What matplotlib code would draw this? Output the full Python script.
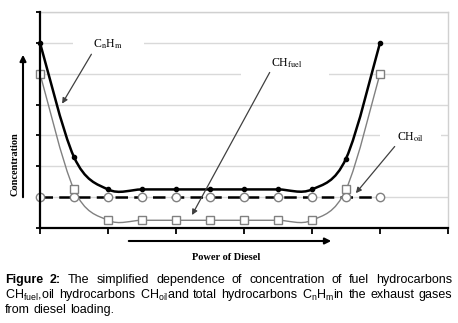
import matplotlib
matplotlib.use("Agg")
import matplotlib.pyplot as plt
import numpy as np
from matplotlib.path import Path
from matplotlib.patches import PathPatch, Rectangle

plt.rcParams['mathtext.fontset'] = 'custom'
plt.rcParams['mathtext.rm'] = 'Liberation Sans'
plt.rcParams['mathtext.it'] = 'Liberation Sans:italic'
plt.rcParams['mathtext.bf'] = 'Liberation Sans:bold'

# ---- data ----
load = [0, 1, 2, 3, 4, 5, 6, 7, 8, 9, 10]
cnhm = [6.0, 2.3, 1.25, 1.25, 1.25, 1.25, 1.25, 1.25, 1.25, 2.25, 6.0]
ch_fuel = [5.0, 1.25, 0.25, 0.25, 0.25, 0.25, 0.25, 0.25, 0.25, 1.25, 5.0]
ch_oil = [1.0] * 11
x_ticks = [0, 2, 4, 6, 8, 10, 12]
y_ticks = [0, 1, 2, 3, 4, 5, 6, 7]

W, H = 458, 323
fig = plt.figure(figsize=(W / 100, H / 100), dpi=100)

def fx(x):
    return x / W

def fy(y):
    return 1 - y / H

ax = fig.add_axes([fx(40), fy(228), fx(448) - fx(40), fy(12) - fy(228)])
ax.set_xlim(0, 12)
ax.set_ylim(0, 7)
ax.set_xticks(x_ticks)
ax.set_yticks(y_ticks)
ax.set_xticklabels([])
ax.set_yticklabels([])
ax.set_axisbelow(True)
ax.grid(axis='y', color='#d9d9d9', lw=1.0)
ax.tick_params(axis='x', direction='out', length=4, width=1.3, color='black')
ax.tick_params(axis='y', direction='out', length=3, width=1.3, color='black')
for s in ['left', 'bottom']:
    ax.spines[s].set_linewidth(1.6)
    ax.spines[s].set_color('black')
    ax.spines[s].set_zorder(5)
for s in ['top', 'right']:
    ax.spines[s].set_linewidth(1.0)
    ax.spines[s].set_color('#d0d0d0')


def smooth_path(xs, ys):
    xs = np.asarray(xs, float)
    ys = np.asarray(ys, float)
    pts = np.column_stack([xs, ys])
    n = len(pts)
    verts = [pts[0]]
    codes = [Path.MOVETO]
    for i in range(n - 1):
        p0 = pts[i - 1] if i > 0 else pts[i]
        p1 = pts[i]
        p2 = pts[i + 1]
        p3 = pts[i + 2] if i + 2 < n else pts[i + 1]
        c1 = p1 + (p2 - p0) / 6.0
        c2 = p2 - (p3 - p1) / 6.0
        verts += [c1, c2, p2]
        codes += [Path.CURVE4] * 3
    return Path(verts, codes)


# white label boxes breaking gridlines
for (x0, x1, y0, y1) in [(0.97, 3.06, 5.6, 6.4), (5.9, 8.5, 4.8, 5.75), (10.0, 11.8, 2.6, 3.4)]:
    ax.add_patch(Rectangle((x0, y0), x1 - x0, y1 - y0, facecolor='white',
                           edgecolor='none', zorder=1))

# CH_oil dashed
ax.plot(load, ch_oil, color='black', lw=1.8, ls=(0, (5, 2.5)), zorder=3, clip_on=False)
ax.plot(load, ch_oil, ls='none', marker='o', ms=6, mfc='white', mec='#808080',
        mew=1.0, zorder=4, clip_on=False)

# CH_fuel smooth gray
ax.add_patch(PathPatch(smooth_path(load, ch_fuel), facecolor='none', edgecolor='#808080',
                       lw=1.0, zorder=3))
ax.plot(load, ch_fuel, ls='none', marker='s', ms=6, mfc='white', mec='#808080',
        mew=1.0, zorder=4, clip_on=False)

# CnHm smooth black
ax.add_patch(PathPatch(smooth_path(load, cnhm), facecolor='none', edgecolor='black',
                       lw=1.8, zorder=3))
ax.plot(load, cnhm, ls='none', marker='o', ms=3, mfc='black', mec='black', zorder=4,
        clip_on=False)

# labels and arrows
akw = dict(arrowstyle='-|>', color='#404040', lw=0.9, mutation_scale=8)
ax.annotate(r'C$_{\mathrm{n}}$H$_{\mathrm{m}}$', xy=(0.65, 4.03), xytext=(1.56, 5.94),
            fontsize=8.5, family='Liberation Serif', math_fontfamily='stix',
            ha='left', va='center', arrowprops=dict(akw, shrinkA=0, shrinkB=0,
                                                     relpos=(0.0, 0.0)), zorder=6)
ax.annotate(r'CH$_{\mathrm{fuel}}$', xy=(4.47, 0.42), xytext=(6.8, 5.35),
            fontsize=8.5, family='Liberation Serif', math_fontfamily='stix',
            ha='left', va='center', arrowprops=dict(akw, shrinkA=0, shrinkB=0,
                                                     relpos=(0.0, 0.0)), zorder=6)
ax.annotate(r'CH$_{\mathrm{oil}}$', xy=(9.29, 1.13), xytext=(10.5, 2.95),
            fontsize=8.5, family='Liberation Serif', math_fontfamily='stix',
            ha='left', va='center', arrowprops=dict(akw, shrinkA=0, shrinkB=0,
                                                     relpos=(0.0, 0.0)), zorder=6)

# outer arrows
fig.add_artist(matplotlib.patches.FancyArrowPatch(
    (fx(23), fy(200)), (fx(23), fy(52)), transform=fig.transFigure,
    arrowstyle='-|>', mutation_scale=9, lw=1.5, color='black'))
fig.add_artist(matplotlib.patches.FancyArrowPatch(
    (fx(126), fy(241)), (fx(334), fy(241)), transform=fig.transFigure,
    arrowstyle='-|>', mutation_scale=9, lw=1.5, color='black'))

fig.text(fx(15), fy(164), 'Concentration', rotation=90, ha='center', va='center',
         fontsize=7.5, fontweight='bold', family='Liberation Serif')
fig.text(fx(226), fy(258), 'Power of Diesel', ha='center', va='center',
         fontsize=7.5, fontweight='bold', family='Liberation Serif')

# caption, justified
lines = [
    [('Figure', 'bold'), ('2:', 'bold'), ('The', 'normal'), ('simplified', 'normal'),
     ('dependence', 'normal'), ('of', 'normal'), ('concentration', 'normal'), ('of', 'normal'),
     ('fuel', 'normal'), ('hydrocarbons', 'normal')],
    [(r'CH$_{\mathrm{fuel}}$,oil', 'normal'), ('hydrocarbons', 'normal'),
     (r'CH$_{\mathrm{oil}}$and', 'normal'), ('total', 'normal'), ('hydrocarbons', 'normal'),
     (r'C$_{\mathrm{n}}$H$_{\mathrm{m}}$in', 'normal'), ('the', 'normal'),
     ('exhaust', 'normal'), ('gases', 'normal')],
    [('from', 'normal'), ('diesel', 'normal'), ('loading.', 'normal')],
]
ys = [280, 295, 310]
x_left, x_right = 5, 452
fig.canvas.draw()
renderer = fig.canvas.get_renderer()
for li, (words, y) in enumerate(zip(lines, ys)):
    texts = []
    for w, wt in words:
        t = fig.text(0, fy(y), w, fontsize=9, fontweight=wt, family='Liberation Sans',
                     math_fontfamily='custom', ha='left', va='baseline' if False else 'center')
        texts.append(t)
    widths = [t.get_window_extent(renderer).width for t in texts]
    if li < len(lines) - 1:
        gap = (x_right - x_left - sum(widths)) / (len(words) - 1)
    else:
        sp = fig.text(0, 0, 'a a', fontsize=9, family='Liberation Sans')
        sp2 = fig.text(0, 0, 'aa', fontsize=9, family='Liberation Sans')
        gap = sp.get_window_extent(renderer).width - sp2.get_window_extent(renderer).width
        sp.remove()
        sp2.remove()
    x = x_left
    for t, wdt in zip(texts, widths):
        t.set_x(fx(x))
        x += wdt + gap

fig.savefig('out.png', dpi=100)
